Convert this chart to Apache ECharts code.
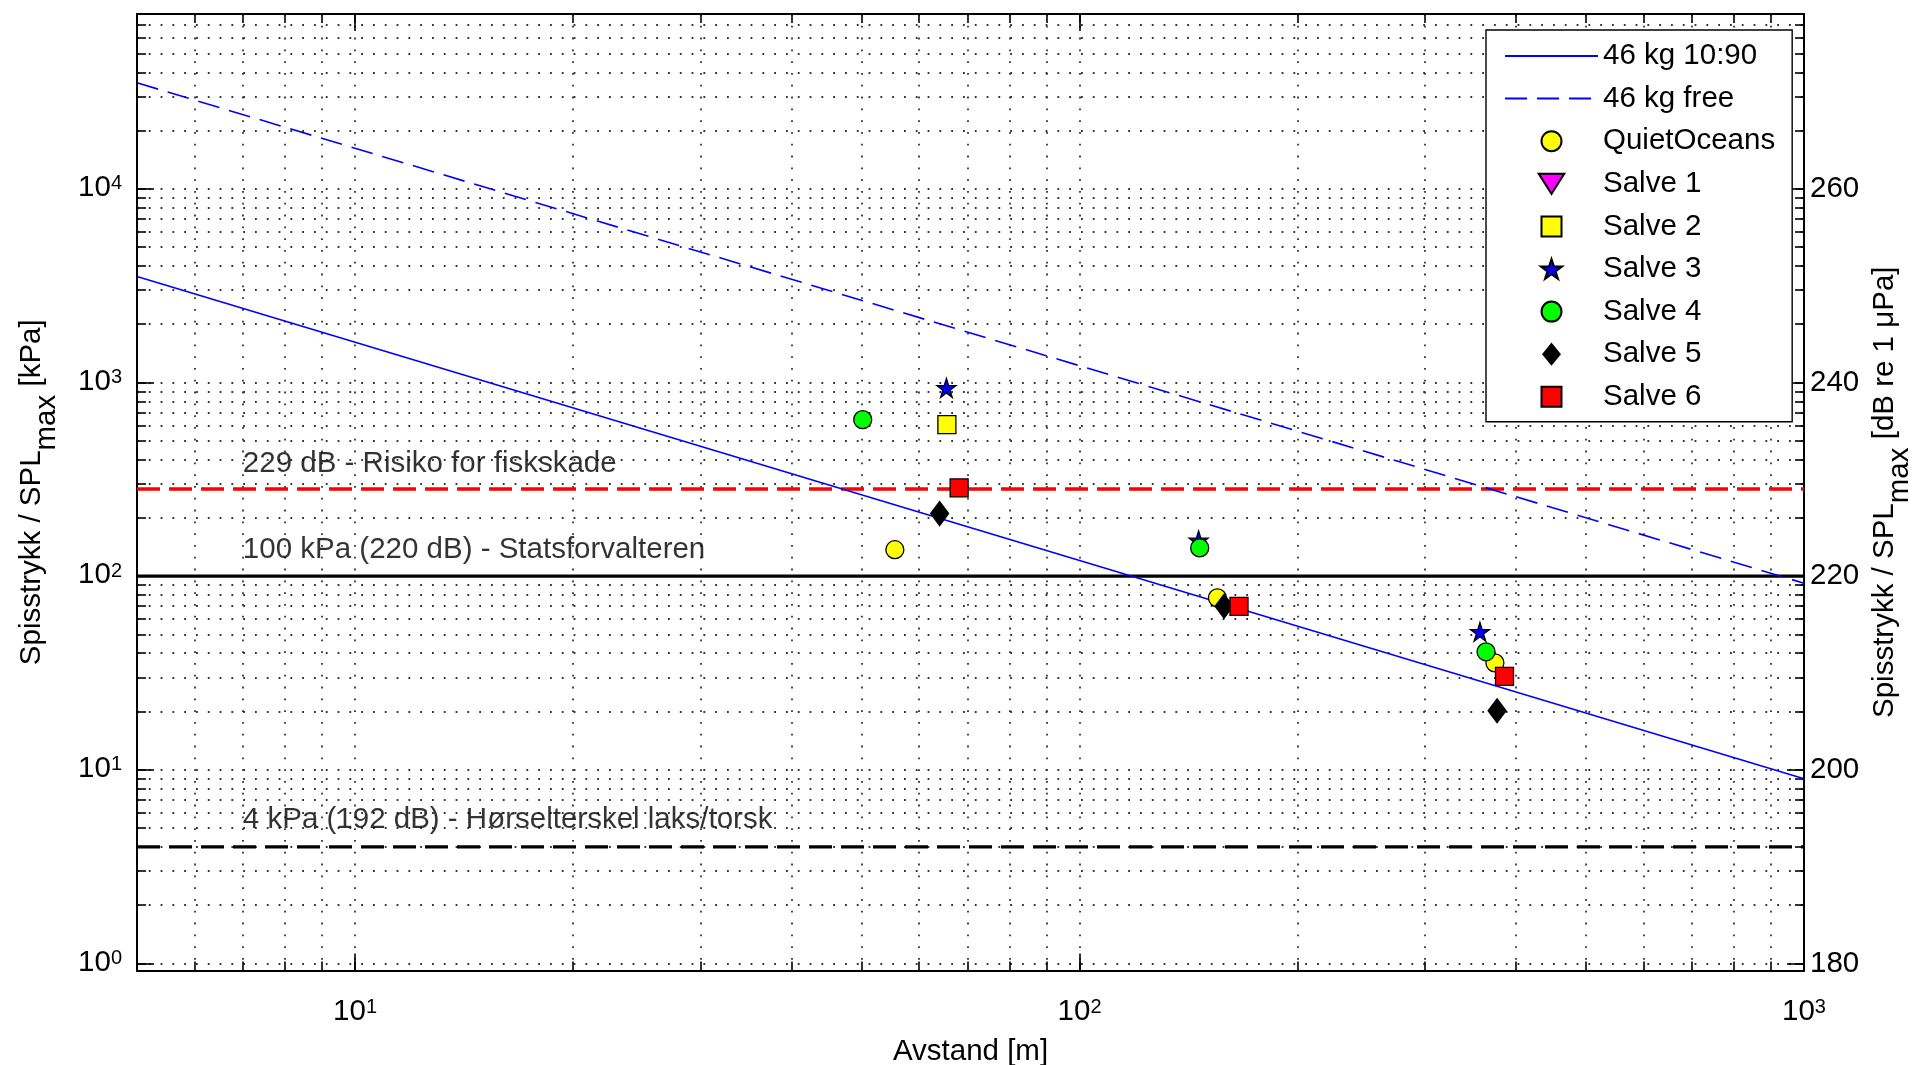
<!DOCTYPE html>
<html>
<head>
<meta charset="utf-8">
<script src="https://cdn.jsdelivr.net/npm/echarts@6/dist/echarts.min.js"></script>
<style>html,body{margin:0;padding:0;background:#fff}#c{width:1914px;height:1065px}</style>
</head>
<body>
<div id="c"></div>
<script>
// ---------- data ----------
const line1090 = [[5, 3530], [1000, 9.0]];
const lineFree = [[5, 35300], [1000, 92]];
const quietOceans = [[55.6, 137], [155, 77.3], [374.4, 35.7]];
const salve1 = [];
const salve2 = [[65.6, 606]];
const salve3 = [[65.5, 938], [146, 153], [357, 51.6]];
const salve4 = [[50.2, 643], [146.5, 140], [364, 40.7]];
const salve5 = [[64.1, 210.5], [158.3, 69.9], [377, 20.2]];
const salve6 = [[68.2, 285.7], [166, 69.9], [386, 30.4]];
const thresholdValues = [282, 100, 4];
const thresholdTexts = ['229 dB - Risiko for fiskskade', '100 kPa (220 dB) - Statsforvalteren', '4 kPa (192 dB) - Hørselterskel laks/torsk'];
const thresholdTextX = [7, 7, 7];
const thresholdTextY = [380, 136, 5.5];
const xMajorTicks = [10, 100, 1000];
const xAllTicks = [6,7,8,9,10,20,30,40,50,60,70,80,90,100,200,300,400,500,600,700,800,900,1000];
const yMajorTicks = [1, 10, 100, 1000, 10000];
const yAllTicks = [1,2,3,4,5,6,7,8,9,10,20,30,40,50,60,70,80,90,100,200,300,400,500,600,700,800,900,
  1000,2000,3000,4000,5000,6000,7000,8000,9000,10000,20000,30000,40000,50000,60000,70000];
const yMajorExponents = ['0', '1', '2', '3', '4'];
const xMajorExponents = ['1', '2', '3'];
const rightTickLabels = ['180', '200', '220', '240', '260'];
const legendNames = ['46 kg 10:90', '46 kg free', 'QuietOceans', 'Salve 1', 'Salve 2', 'Salve 3', 'Salve 4', 'Salve 5', 'Salve 6'];

// ---------- styling ----------
const FONT = "'Liberation Sans', Arial, Helvetica, sans-serif";
const FS = 29.5;
const TXT = '#000';
const X_MIN = 5, X_MAX = 1000, Y_MIN = 0.92, Y_MAX = 80000;
const STAR = 'path://M50,0 L61.2,34.5 L97.6,34.5 L68.2,55.9 L79.4,90.5 L50,69.1 L20.6,90.5 L31.8,55.9 L2.4,34.5 L38.8,34.5 Z';
const SQUARE = 'path://M0,0 L10,0 L10,10 L0,10 Z';
const TRI_DOWN = 'path://M0,0 L23,0 L11.5,18 Z';
const DIAMOND = 'path://M9,0 L18,11 L9,22 L0,11 Z';
const legendIcons = {
  'QuietOceans': 'circle', 'Salve 1': TRI_DOWN, 'Salve 2': SQUARE, 'Salve 3': STAR,
  'Salve 4': 'circle', 'Salve 5': DIAMOND, 'Salve 6': SQUARE
};

const powRich = {
  b: { fontSize: FS, lineHeight: 29, verticalAlign: 'bottom', color: TXT, fontFamily: FONT },
  s: { fontSize: 20, lineHeight: 20, padding: [0, 0, 18, 0], verticalAlign: 'top', color: TXT, fontFamily: FONT }
};
const nameRich = {
  b: { fontSize: FS, lineHeight: 30, verticalAlign: 'top', color: TXT, fontFamily: FONT },
  s: { fontSize: FS, lineHeight: 30, padding: [15, 0, 0, 0], verticalAlign: 'top', color: TXT, fontFamily: FONT }
};

function idxOf(arr, v) {
  let best = 0, bd = Infinity;
  arr.forEach((a, i) => { const d = Math.abs(Math.log(a) - Math.log(v)); if (d < bd) { bd = d; best = i; } });
  return best;
}

const gridLine = { show: true, lineStyle: { color: '#333', width: 1.8, type: [1.8, 10] } };
const frameLine = { show: true, lineStyle: { color: '#000', width: 2 } };

function xAxisDef(position, ticks, len, main) {
  return {
    type: 'log', logBase: 10, min: X_MIN, max: X_MAX, position: position, gridIndex: 0,
    axisLine: main ? frameLine : { show: false },
    axisTick: { show: true, inside: true, length: len, customValues: ticks, lineStyle: { color: '#000', width: 1.6 } },
    axisLabel: (main && position === 'bottom') ? {
      show: true, customValues: xMajorTicks, margin: 27, color: TXT, fontFamily: FONT,
      formatter: v => '{b|10}{s|' + xMajorExponents[idxOf(xMajorTicks, v)] + '}', rich: powRich
    } : { show: false },
    splitLine: (main && position === 'bottom') ? gridLine : { show: false },
    minorTick: { show: false }, minorSplitLine: { show: false },
    name: (main && position === 'bottom') ? 'Avstand [m]' : '',
    nameLocation: 'middle', nameGap: 66, nameMoveOverlap: false,
    nameTextStyle: { fontSize: FS, color: TXT, fontFamily: FONT }
  };
}
function yAxisDef(position, ticks, len, main) {
  const d = {
    type: 'log', logBase: 10, min: Y_MIN, max: Y_MAX, position: position, gridIndex: 0,
    axisLine: main ? frameLine : { show: false },
    axisTick: { show: true, inside: true, length: len, customValues: ticks, lineStyle: { color: '#000', width: 1.6 } },
    axisLabel: { show: false },
    splitLine: (main && position === 'left') ? gridLine : { show: false },
    minorTick: { show: false }, minorSplitLine: { show: false },
    nameMoveOverlap: false
  };
  if (main && position === 'left') {
    d.axisLabel = {
      show: true, customValues: yMajorTicks, margin: 15, padding: [0, 0, 1, 0], color: TXT, fontFamily: FONT,
      formatter: v => '{b|10}{s|' + yMajorExponents[idxOf(yMajorTicks, v)] + '}', rich: powRich
    };
    d.name = '{b|Spisstrykk / SPL}{s|max}{b| [kPa]}';
    d.nameLocation = 'middle'; d.nameRotate = 90; d.nameGap = 90;
    d.nameTextStyle = { fontSize: FS, color: TXT, fontFamily: FONT, rich: nameRich };
  }
  if (main && position === 'right') {
    d.axisLabel = {
      show: true, customValues: yMajorTicks, margin: 6, color: TXT, fontFamily: FONT, fontSize: FS,
      formatter: v => rightTickLabels[idxOf(yMajorTicks, v)]
    };
    d.name = '{b|Spisstrykk / SPL}{s|max}{b| [dB re 1 μPa]}';
    d.nameLocation = 'middle'; d.nameRotate = 90; d.nameGap = 66;
    d.nameTextStyle = { fontSize: FS, color: TXT, fontFamily: FONT, rich: nameRich };
  }
  return d;
}

function markerSeries(name, data, symbol, color, size, extra) {
  return Object.assign({
    name: name, type: 'scatter', data: data, symbol: symbol, symbolSize: size,
    itemStyle: { color: color, borderColor: '#000', borderWidth: 1.3, opacity: 1 },
    z: 6, silent: true
  }, extra || {});
}

const thresholdStyles = [
  { color: '#ff0000', width: 3.6, type: [23, 9] },
  { color: '#000000', width: 3.2, type: 'solid' },
  { color: '#000000', width: 3.2, type: [23, 9] }
];

const series = [];
thresholdValues.forEach((v, i) => {
  series.push({
    name: 'threshold' + i, type: 'line', data: [[X_MIN, v], [X_MAX, v]],
    symbol: 'none', lineStyle: thresholdStyles[i], z: 3, silent: true
  });
});
series.push({
  name: 'labels', type: 'scatter', symbolSize: 0, z: 4, silent: true,
  data: thresholdTexts.map((t, i) => ({ value: [thresholdTextX[i], thresholdTextY[i]], name: t })),
  label: { show: true, position: 'right', distance: 0, formatter: p => p.name, fontSize: FS, color: TXT, fontFamily: FONT }
});
series.push({ name: '46 kg 10:90', type: 'line', data: line1090, symbol: 'none', itemStyle: { color: '#0000ff' }, lineStyle: { color: '#0000ff', width: 1.6, type: 'solid' }, z: 4, silent: true });
series.push({ name: '46 kg free', type: 'line', data: lineFree, symbol: 'none', itemStyle: { color: '#0000ff' }, lineStyle: { color: '#0000ff', width: 1.6, type: [22, 10] }, z: 4, silent: true });
series.push(markerSeries('QuietOceans', quietOceans, 'circle', '#ffff00', 18));
series.push(markerSeries('Salve 1', salve1, 'triangle', '#ff00ff', 18, { symbolRotate: 180 }));
series.push(markerSeries('Salve 2', salve2, 'rect', '#ffff00', 18));
series.push(markerSeries('Salve 3', salve3, STAR, '#0000ff', 19));
series.push(markerSeries('Salve 4', salve4, 'circle', '#00ff00', 18));
series.push(markerSeries('Salve 5', salve5, 'diamond', '#000000', [18, 24]));
series.push(markerSeries('Salve 6', salve6, 'rect', '#ff0000', 18));

const legendData = legendNames.map(n => {
  if (legendIcons[n]) return { name: n, icon: legendIcons[n] };
  return { name: n, itemStyle: { opacity: 0 } };
});

const option = {
  animation: false,
  backgroundColor: '#ffffff',
  textStyle: { fontFamily: FONT, color: TXT },
  grid: { left: 137, top: 14, width: 1667, height: 956.5, containLabel: false, outerBoundsMode: 'none' },
  xAxis: [
    xAxisDef('bottom', xAllTicks, 9, true),
    xAxisDef('top', xAllTicks, 9, true),
    xAxisDef('bottom', xMajorTicks, 17, false),
    xAxisDef('top', xMajorTicks, 17, false)
  ],
  yAxis: [
    yAxisDef('left', yAllTicks, 9, true),
    yAxisDef('right', yAllTicks, 9, true),
    yAxisDef('left', yMajorTicks, 17, false),
    yAxisDef('right', yMajorTicks, 17, false)
  ],
  legend: {
    orient: 'vertical', left: 1486, top: 30,
    itemWidth: 93, itemHeight: 20, itemGap: 12.6,
    padding: [11, 17, 10, 18],
    backgroundColor: '#ffffff', borderColor: '#000', borderWidth: 1.4, borderRadius: 0,
    selectedMode: false, symbolKeepAspect: true,
    textStyle: { fontSize: FS, lineHeight: 29, color: TXT, fontFamily: FONT },
    data: legendData
  },
  series: series
};

const chart = echarts.init(document.getElementById('c'), null, { renderer: 'canvas' });
chart.setOption(option);
</script>
</body>
</html>
